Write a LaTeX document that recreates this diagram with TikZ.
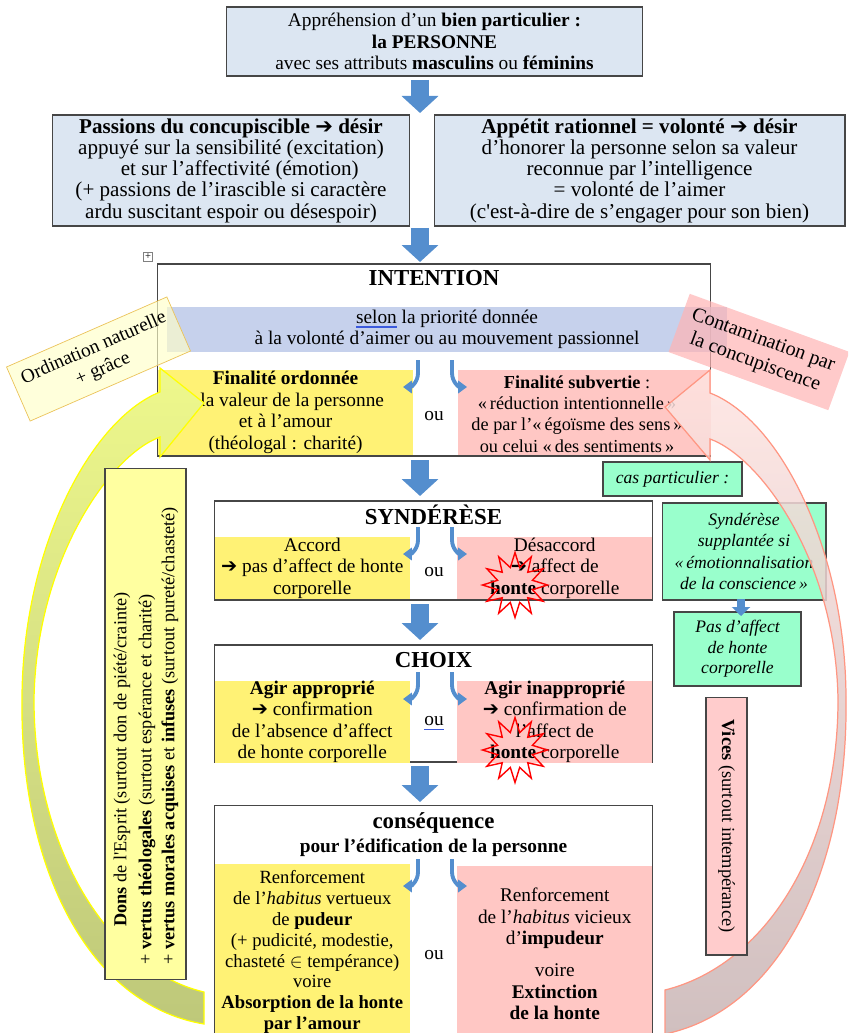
\documentclass[tikz,border=0pt]{standalone}
\usepackage{fontspec}
\setmainfont{Liberation Serif}
\newfontfamily\symfont{DejaVu Sans}
\usetikzlibrary{shapes.geometric,arrows.meta}
\definecolor{boxblue}{RGB}{220,230,242}
\definecolor{bandblue}{RGB}{184,198,232}
\definecolor{panelyellow}{RGB}{255,242,117}
\definecolor{panelpink}{RGB}{255,199,196}
\definecolor{mint}{RGB}{153,255,204}
\definecolor{donsyellow}{RGB}{255,255,160}
\definecolor{vicespink}{RGB}{255,204,204}
\definecolor{arrowblue}{RGB}{84,142,206}
\definecolor{ulblue}{RGB}{60,90,220}
\definecolor{edgegray}{RGB}{70,70,70}
\definecolor{ordifill}{RGB}{255,255,200}
\definecolor{ordiedge}{RGB}{235,195,90}
\definecolor{contafill}{RGB}{255,180,180}
\definecolor{bigytop}{RGB}{238,248,140}
\definecolor{bigybot}{RGB}{190,200,122}
\definecolor{bigyedge}{RGB}{255,255,0}
\definecolor{bigptop}{RGB}{255,228,225}
\definecolor{bigpbot}{RGB}{200,180,180}
\definecolor{bigpedge}{RGB}{255,150,130}
\newcommand\arr{{\symfont ➔}}
\newcommand\spellul[1]{\setbox0\hbox{#1}\rlap{\color{ulblue}\rule[-1.6pt]{\wd0}{0.35pt}\hskip-\wd0\rule[-2.6pt]{\wd0}{0.35pt}}#1}
\newcommand\blueul[1]{\setbox0\hbox{#1}\rlap{\color{ulblue}\rule[-2pt]{\wd0}{0.4pt}}#1}

\begin{document}
\begin{tikzpicture}[x=0.02cm, y=-0.02cm, font=\fontsize{11}{12.2}\selectfont,
    box/.style={draw=edgegray, line width=0.6pt, inner sep=0pt, align=center},
    bluebox/.style={box, fill=boxblue},
    greenbox/.style={box, fill=mint, font=\fontsize{10}{12.2}\selectfont\itshape},
    panelY/.style={fill=panelyellow, inner sep=0pt, align=center},
    panelP/.style={fill=panelpink, inner sep=0pt, align=center},
    titre/.style={inner sep=0pt, font=\fontsize{13}{15}\selectfont\bfseries},
    blockarrow/.style={draw=arrowblue, line width=0.36cm, -{Triangle[width=0.72cm 0 0,length=0.34cm 0 0]}},
    smallarrow/.style={draw=arrowblue, line width=0.16cm, -{Triangle[width=0.36cm 0 0,length=0.18cm 0 0]}},
    hook/.style={draw=arrowblue, line width=2.2pt, -{Triangle[width=7pt 0 0,length=5pt 0 0]}},
    burst/.style={star, star points=12, star point ratio=1.8, draw=red, line width=0.8pt, minimum size=1.3cm, inner sep=0pt},
    bigY/.style={top color=bigytop, bottom color=bigybot, draw=bigyedge, line width=0.7pt},
    bigP/.style={top color=bigptop, bottom color=bigpbot, draw=bigpedge, line width=0.7pt, fill opacity=0.85}
  ]
\useasboundingbox (0,0) rectangle (848,1033);
\clip (0,0) rectangle (848,1033);

% top of the chart
\node[bluebox, minimum width=8.34cm, minimum height=1.38cm] (appre) at (434.5,41.5)
  {Appréhension d’un \textbf{bien particulier :}\\ \textbf{la PERSONNE}\\ avec ses attributs \textbf{masculins} ou \textbf{féminins}};
\node[bluebox, minimum width=7.16cm, minimum height=2.22cm, font=\fontsize{12}{12.1}\selectfont] (passions) at (231,170.5)
  {\textbf{Passions du concupiscible \arr\ désir}\\ appuyé sur la sensibilité (excitation)\\ \hspace*{10pt}et sur l’affectivité (émotion)\\ (+ passions de l’irascible si caractère\\ ardu suscitant espoir ou désespoir)};
\node[bluebox, minimum width=8.22cm, minimum height=2.22cm, font=\fontsize{12}{12.1}\selectfont] (appetit) at (639.5,170.5)
  {\textbf{Appétit rationnel = volonté \arr\ désir}\\ d’honorer la personne selon sa valeur\\ reconnue par l’intelligence\\ = volonté de l’aimer\\ (c\textquotesingle est-à-dire de s’engager pour son bien)};
\node[draw=gray, minimum size=0.18cm, inner sep=0pt, font=\fontsize{6}{6}\selectfont] (handle) at (148,257) {+};

% intention
\node[box, fill=white, minimum width=11.08cm, minimum height=3.84cm] (intention) at (434,360) {};
\node[titre] (intT) at (434,278) {INTENTION};
\node[panelY, minimum width=5.1cm, minimum height=1.7cm] (intY) at (285.5,412.5)
  {\textbf{Finalité ordonnée}\\ à la valeur de la personne\\ et à l’amour\\ (théologal : charité)};
\node[panelP, minimum width=5.05cm, minimum height=1.7cm] (intP) at (584.5,412.5) {};
\node[align=center, inner sep=0pt, font=\fontsize{10.4}{12.2}\selectfont] (intPt) at (577,414)
  {\textbf{Finalité subvertie} :\\ «\,réduction intentionnelle\,»\hspace*{12pt}\\ de par l’«\,égoïsme des sens\,»\\ ou celui «\,des sentiments\,»};
\node (ou1) at (434,416) {ou};
\node[fill=bandblue, fill opacity=0.8, text opacity=1, inner sep=0pt, align=center,
  minimum width=11.2cm, minimum height=0.9cm] (band) at (447,329.5)
  {\spellul{selon} la priorité donnée\\ à la volonté d’aimer ou au mouvement passionnel};
\node[fill=ordifill, fill opacity=0.65, text opacity=1, draw=ordiedge, align=center, inner sep=0pt,
  rotate=23.6, minimum width=3.5cm, minimum height=1.18cm, font=\fontsize{11}{13}\selectfont] (ordin) at (98.5,359)
  {Ordination naturelle\\ + grâce};
\node[fill=contafill, fill opacity=0.7, text opacity=1, align=center, inner sep=0pt,
  rotate=-20, minimum width=3.4cm, minimum height=1.24cm, font=\fontsize{11.5}{13.5}\selectfont] (conta) at (759,352)
  {Contamination par\\ la concupiscence};

% syndérèse
\node[box, fill=white, minimum width=8.78cm, minimum height=1.98cm] (syn) at (433.5,550.5) {};
\node[titre] (synT) at (433.5,515) {SYNDÉRÈSE};
\node[panelY, minimum width=3.91cm, minimum height=1.25cm] (synY) at (312.25,568.25)
  {Accord\\ \arr\ pas d’affect de honte\\ corporelle};
\node[panelP, minimum width=3.91cm, minimum height=1.25cm] (synP) at (554.75,568.25)
  {Désaccord\\ \arr\ affect de\\ \textbf{honte} corporelle};
\node (ou2) at (434,572) {ou};

% cas particulier
\node[greenbox, minimum width=2.78cm, minimum height=0.68cm] (cas) at (672.5,479) {cas particulier :};
\node[greenbox, minimum width=3.28cm, minimum height=1.94cm] (supp) at (744,551.5)
  {Syndérèse\\ supplantée si\\ «\,émotionnalisation\\ de la conscience\,»};
\node[greenbox, minimum width=2.54cm, minimum height=1.48cm, font=\fontsize{10}{11.6}\selectfont\itshape] (pas) at (737.5,649)
  {Pas d’affect\\ de honte\\ corporelle};
\coordinate (g1) at (741,599);
\coordinate (g2) at (741,616);
\draw[smallarrow] (g1) -- (g2);

% choix
\node[box, fill=white, minimum width=8.78cm, minimum height=2.34cm] (cho) at (433.5,703.5) {};
\node[titre] (choT) at (433.5,660) {CHOIX};
\node[panelY, minimum width=3.91cm, minimum height=1.59cm] (choY) at (312.25,721.75)
  {\textbf{Agir approprié}\\ \arr\ confirmation\\ de l’absence d’affect\\ de honte corporelle};
\node[panelP, minimum width=3.91cm, minimum height=1.59cm] (choP) at (554.75,721.75)
  {\textbf{Agir inapproprié}\\ \arr\ confirmation de\\ l’affect de\\ \textbf{honte} corporelle};
\node (ou3) at (434,723) {\blueul{ou}};

% conséquence
\node[box, fill=white, minimum width=8.78cm, minimum height=4.8cm] (con) at (433.5,925) {};
\node[titre] (conT) at (433.5,823) {conséquence};
\node[inner sep=0pt, font=\fontsize{11}{12.2}\selectfont\bfseries] (conS) at (433.5,848) {pour l’édification de la personne};
\node[panelY, minimum width=3.91cm, minimum height=3.54cm, font=\fontsize{10.6}{11.9}\selectfont] (conY) at (312.25,952)
  {Renforcement\\ de l’\textit{habitus} vertueux\\ de \textbf{pudeur}\\ (+ pudicité, modestie,\\ chasteté $\in$ tempérance)\\ voire\\ \textbf{Absorption de la honte}\\ \textbf{par l’amour}};
\node[panelP, minimum width=3.91cm, minimum height=3.54cm] (conP) at (554.75,954)
  {Renforcement\\ de l’\textit{habitus} vicieux\\ d’\textbf{impudeur}\\[6pt] voire\\ \textbf{Extinction}\\ \textbf{de la honte}};
\node (ou4) at (434,955) {ou};

% bursts round honte
\node[burst] (st1) at (515,585) {};
\node[burst] (st2) at (515,750) {};

% block arrows and hooks
\foreach \n/\a/\b in {1/80/113, 2/228/262, 3/460/496, 4/604/640, 5/766/802}{
  \coordinate (s\n) at (420,\a);
  \coordinate (e\n) at (420,\b);
  \draw[blockarrow] (s\n) -- (e\n);
}
\foreach \n/\t in {int/360, syn/527, cho/672, con/859}{
  \coordinate (\n hl) at (418,\t);
  \coordinate (\n hr) at (452,\t);
  \draw[hook] (\n hl) -- ++(0,13) .. controls +(0,9) and +(8,0) .. ++(-15,14);
  \draw[hook] (\n hr) -- ++(0,13) .. controls +(0,9) and +(-8,0) .. ++(15,14);
}

% big curved arrows
\draw[bigY] (160,392) -- (160,368) -- (204,403) -- (160,457) -- (160,437)
  .. controls (110,455) and (36,560) .. (34,700)
  .. controls (34,850) and (110,970) .. (204,992)
  -- (204,1024)
  .. controls (90,1005) and (20,870) .. (22,700)
  .. controls (22,550) and (90,420) .. (160,392) -- cycle;
\draw[bigP] (710,393) -- (710,370) -- (665,407) -- (710,460) -- (710,439)
  .. controls (760,457) and (836,560) .. (838,700)
  .. controls (838,850) and (765,965) .. (665,990)
  -- (665,1034)
  .. controls (780,1010) and (848,870) .. (846,700)
  .. controls (846,550) and (780,420) .. (710,393) -- cycle;

% side boxes
\node[box, fill=donsyellow, minimum width=1.62cm, minimum height=10.24cm] (dons) at (145.5,724) {};
\begin{scope}[font=\fontsize{10.4}{12}\selectfont]
\node[rotate=90, anchor=west, inner sep=0pt] (dons1) at (122,927) {\textbf{Dons} de l\textquotesingle Esprit (surtout don de piété/crainte)};
\node[rotate=90, anchor=west, inner sep=0pt] (dons2) at (147,965) {+ \textbf{vertus théologales} (surtout espérance et charité)};
\node[rotate=90, anchor=west, inner sep=0pt] (dons3) at (170,965) {+ \textbf{vertus morales acquises} et \textbf{infuses} (surtout pureté/chasteté)};
\end{scope}
\node[box, fill=vicespink, rotate=-90, minimum width=5.16cm, minimum height=0.82cm, font=\fontsize{10.5}{12}\selectfont] (vices) at (726.5,826)
  {\textbf{Vices} (surtout intempérance)};
\end{tikzpicture}
\end{document}
